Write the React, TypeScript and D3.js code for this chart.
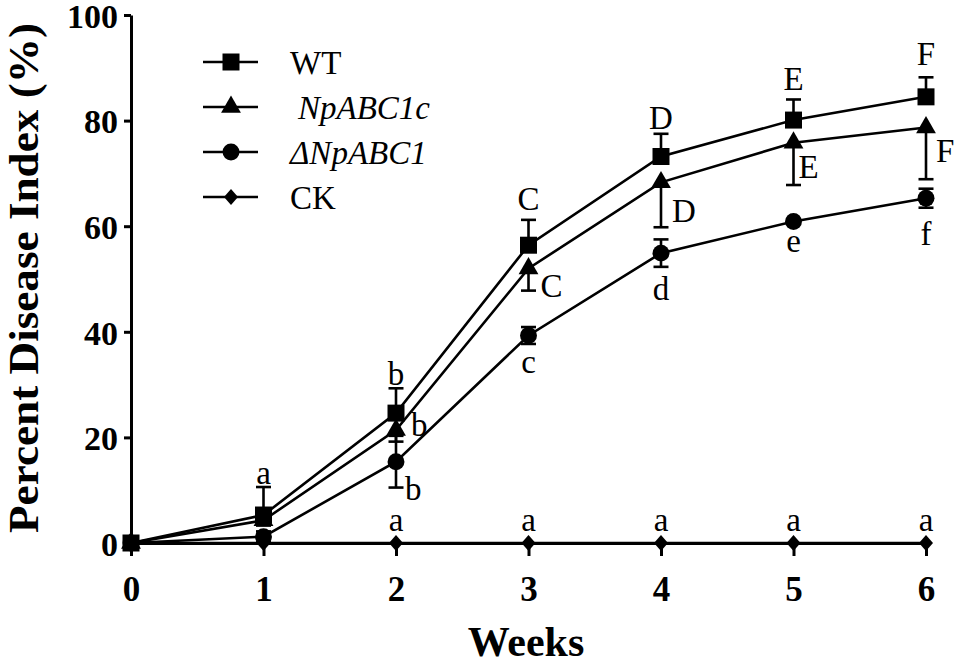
import React, { useRef, useEffect } from "react";
import * as d3 from "d3";

// weeks after inoculation
const weeks = [0, 1, 2, 3, 4, 5, 6];

// percent disease index per strain
const wt = [0, 5.3, 24.6, 56.4, 73.2, 80.1, 84.5];
const wtErr = [0, 5.3, 4.7, 4.8, 4.3, 3.9, 3.7];
const npABC1c = [0, 4.3, 21.4, 52.0, 68.3, 75.8, 78.7];
const npABC1cErr = [0, 1.0, 2.2, 4.2, 8.5, 8.0, 9.8];
const dNpABC1 = [0, 1.2, 15.4, 39.3, 54.9, 60.9, 65.3];
const dNpABC1Err = [0, 1.0, 4.9, 1.6, 2.6, 0, 1.8];
const ck = [0, 0, 0, 0, 0, 0, 0];

const yTicks = [0, 20, 40, 60, 80, 100];

// significance letters: week, value of the baseline, letter
const topLetters = [
  [1, 11.2, "a"],
  [2, 29.9, "b"],
  [3, 63.1, "C"],
  [4, 78.4, "D"],
  [5, 85.8, "E"],
  [6, 90.5, "F"],
] as [number, number, string][];
const rightLetters = [
  [2, 20.3, "b"],
  [3, 46.6, "C"],
  [4, 60.8, "D"],
  [5, 69.1, "E"],
  [6, 72.2, "F"],
] as [number, number, string][];
const lowLetters = [
  [2, 8.1, "b"],
  [3, 32.2, "c"],
  [4, 46.0, "d"],
  [5, 55.1, "e"],
  [6, 56.4, "f"],
] as [number, number, string][];
const ckLetters = [
  [2, 2.3, "a"],
  [3, 2.3, "a"],
  [4, 2.3, "a"],
  [5, 2.3, "a"],
  [6, 2.3, "a"],
] as [number, number, string][];

const legendLabels = ["WT", "NpABC1c", "\u0394NpABC1", "CK"];

const FONT = "'Liberation Serif', 'Times New Roman', serif";

const Chart: React.FC = () => {
  const ref = useRef<SVGSVGElement>(null);

  useEffect(() => {
    const svg = d3.select(ref.current);
    svg.selectAll("*").remove();

    const width = 957,
      height = 665;

    const x = d3.scaleLinear().domain([0, 6]).range([131, 926]);
    const y = d3.scaleLinear().domain([0, 100]).range([543, 15]);

    svg.append("rect").attr("width", width).attr("height", height).attr("fill", "#fff");

    // marker shapes
    const diamond = "M0,-8L7,0L0,8L-7,0Z";
    const shapes = [
      d3.symbol(d3.symbolSquare, 289)()!,
      d3.symbol(d3.symbolTriangle, 170)()!,
      d3.symbol(d3.symbolCircle, 225)()!,
      diamond,
    ];

    const series = [
      { values: wt, err: wtErr, dir: "up" },
      { values: npABC1c, err: npABC1cErr, dir: "down" },
      { values: dNpABC1, err: dNpABC1Err, dir: "both" },
      { values: ck, err: ck, dir: "none" },
    ];

    // Axes
    const yAxis = svg.append("g").attr("transform", `translate(${x(0)},0)`);
    yAxis
      .call(
        d3
          .axisLeft(y)
          .tickValues(yTicks)
          .tickFormat(d3.format("d"))
          .tickSize(7)
          .tickSizeOuter(0)
          .tickPadding(6)
      )
      .call((g) => g.select(".domain").attr("stroke-width", 3))
      .call((g) => g.selectAll(".tick line").attr("stroke-width", 3));
    yAxis
      .selectAll("text")
      .attr("dy", "0.36em")
      .attr("font-family", FONT)
      .attr("font-weight", "bold")
      .attr("font-size", 34)
      .attr("fill", "#000");

    const xAxis = svg.append("g").attr("transform", `translate(0,${y(0)})`);
    xAxis
      .call(
        d3
          .axisBottom(x)
          .tickValues(weeks)
          .tickFormat(d3.format("d"))
          .tickSize(13)
          .tickSizeOuter(0)
          .tickPadding(20)
      )
      .call((g) => g.select(".domain").attr("stroke-width", 3))
      .call((g) => g.selectAll(".tick line").attr("stroke-width", 3));
    xAxis
      .selectAll("text")
      .attr("font-family", FONT)
      .attr("font-weight", "bold")
      .attr("font-size", 35)
      .attr("fill", "#000");

    // Lines
    const line = d3
      .line<number>()
      .x((_, i) => x(weeks[i]))
      .y((d) => y(d));

    series.forEach((s) => {
      svg
        .append("path")
        .datum(s.values)
        .attr("fill", "none")
        .attr("stroke", "#000")
        .attr("stroke-width", 2.6)
        .attr("d", line);
    });

    // Error bars
    const cap = 7.5;
    series.forEach((s) => {
      s.values.forEach((v, i) => {
        const e = s.err[i];
        if (!e || s.dir === "none") return;
        const ends: number[] = [];
        if (s.dir === "up" || s.dir === "both") ends.push(v + e);
        if (s.dir === "down" || s.dir === "both") ends.push(v - e);
        ends.forEach((end) => {
          const cx = x(weeks[i]);
          svg
            .append("line")
            .attr("x1", cx)
            .attr("x2", cx)
            .attr("y1", y(v))
            .attr("y2", y(end))
            .attr("stroke", "#000")
            .attr("stroke-width", 2.6);
          svg
            .append("line")
            .attr("x1", cx - cap)
            .attr("x2", cx + cap)
            .attr("y1", y(end))
            .attr("y2", y(end))
            .attr("stroke", "#000")
            .attr("stroke-width", 2.6);
        });
      });
    });

    // Markers
    series.forEach((s, k) => {
      svg
        .append("g")
        .selectAll("path")
        .data(s.values)
        .enter()
        .append("path")
        .attr("d", shapes[k])
        .attr("transform", (d, i) => `translate(${x(weeks[i])},${y(d)})`)
        .attr("fill", "#000");
    });

    // Significance letters
    const letter = (
      data: [number, number, string][],
      dx: number[],
      anchor: string[]
    ) => {
      svg
        .append("g")
        .selectAll("text")
        .data(data)
        .enter()
        .append("text")
        .attr("x", (d, i) => x(d[0]) + dx[i])
        .attr("y", (d) => y(d[1]))
        .attr("text-anchor", (_, i) => anchor[i])
        .attr("font-family", FONT)
        .attr("font-size", 33)
        .attr("fill", "#000")
        .text((d) => d[2]);
    };
    const mid = (n: number) => Array(n).fill("middle");
    const zero = (n: number) => Array(n).fill(0);
    letter(topLetters, zero(6), mid(6));
    letter(rightLetters, [15, 12, 11, 5, 10], Array(5).fill("start"));
    letter(lowLetters, [9, 0, 0, 0, 0], ["start", "middle", "middle", "middle", "middle"]);
    letter(ckLetters, zero(5), mid(5));

    // Legend
    const legend = svg.append("g");
    legendLabels.forEach((label, k) => {
      const ry = 62 + k * 45;
      legend
        .append("line")
        .attr("x1", 203)
        .attr("x2", 258)
        .attr("y1", ry)
        .attr("y2", ry)
        .attr("stroke", "#000")
        .attr("stroke-width", 2.6);
      legend
        .append("path")
        .attr("d", shapes[k])
        .attr("transform", `translate(231,${ry})`)
        .attr("fill", "#000");
      legend
        .append("text")
        .attr("x", k === 1 ? 298 : 290)
        .attr("y", ry + 12)
        .attr("font-family", FONT)
        .attr("font-size", 33)
        .attr("font-style", k === 1 || k === 2 ? "italic" : "normal")
        .attr("fill", "#000")
        .text(label);
    });

    // Axis titles
    svg
      .append("text")
      .attr("x", 526)
      .attr("y", 656)
      .attr("text-anchor", "middle")
      .attr("font-family", FONT)
      .attr("font-weight", "bold")
      .attr("font-size", 42)
      .attr("fill", "#000")
      .text("Weeks");

    svg
      .append("text")
      .attr("transform", "translate(38,278) rotate(-90)")
      .attr("text-anchor", "middle")
      .attr("font-family", FONT)
      .attr("font-weight", "bold")
      .attr("font-size", 42)
      .attr("textLength", 510)
      .attr("lengthAdjust", "spacingAndGlyphs")
      .attr("fill", "#000")
      .text("Percent Disease Index (%)");
  }, []);

  return (
    <svg
      ref={ref}
      width={957}
      height={665}
      style={{ position: "absolute", left: 0, top: 0 }}
    />
  );
};

export default function App() {
  return <Chart />;
}
